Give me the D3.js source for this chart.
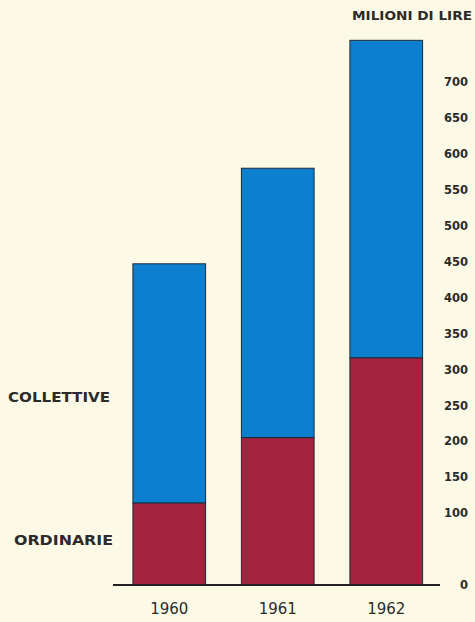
<!DOCTYPE html>
<html>
<head>
<meta charset="utf-8">
<script src="https://cdn.jsdelivr.net/npm/d3@7"></script>
<style>
  html, body { margin: 0; padding: 0; background: #fcfae6; }
  svg { display: block; }
</style>
</head>
<body>
<script>
'use strict';

// data (milioni di lire)
const years = ['1960', '1961', '1962'];
const ordinarie = [114, 205, 316];
const collettive = [333, 375, 442];
const tickValues = [0, 100, 150, 200, 250, 300, 350, 400, 450, 500, 550, 600, 650, 700];

const W = 475, H = 622;
const FONT = '"DejaVu Sans", Lato, sans-serif';
const BLUE = '#0c80cf', RED = '#a4233f', EDGE = '#1d2a3a', TEXT = '#2b2b2b';

const svg = d3.select('body').append('svg')
  .attr('width', W).attr('height', H)
  .attr('viewBox', `0 0 ${W} ${H}`);
svg.append('rect').attr('width', W).attr('height', H).attr('fill', '#fcfae6');

const x = d3.scaleBand().domain(years).range([115, 440.5])
  .paddingInner(0.33).paddingOuter(0.165);
const y = d3.scaleLinear().domain([0, 700]).range([585, 82]);

// stacked bars
const rows = years.map((yr, i) => ({ yr, ord: ordinarie[i], col: collettive[i] }));
const bars = svg.append('g');
bars.selectAll('rect.col').data(rows).join('rect')
  .attr('class', 'col')
  .attr('x', d => x(d.yr)).attr('width', x.bandwidth())
  .attr('y', d => y(d.ord + d.col))
  .attr('height', d => y(d.ord) - y(d.ord + d.col))
  .attr('fill', BLUE).attr('stroke', EDGE).attr('stroke-width', 1);
bars.selectAll('rect.ord').data(rows).join('rect')
  .attr('class', 'ord')
  .attr('x', d => x(d.yr)).attr('width', x.bandwidth())
  .attr('y', d => y(d.ord))
  .attr('height', d => y(0) - y(d.ord))
  .attr('fill', RED).attr('stroke', EDGE).attr('stroke-width', 1);

// baseline
svg.append('line')
  .attr('x1', 113).attr('x2', 440)
  .attr('y1', y(0)).attr('y2', y(0))
  .attr('stroke', '#222').attr('stroke-width', 2);

// value axis on the right, labels only
const yAxis = svg.append('g')
  .attr('transform', 'translate(468,0)')
  .call(d3.axisLeft(y).tickValues(tickValues).tickSize(0).tickPadding(0));
yAxis.select('.domain').remove();
yAxis.selectAll('text')
  .attr('font-family', FONT).attr('font-size', 11.5).attr('font-weight', 700)
  .attr('fill', TEXT);

// year labels
const xAxis = svg.append('g')
  .attr('transform', `translate(0,${y(0)})`)
  .call(d3.axisBottom(x).tickSize(0).tickPadding(18));
xAxis.select('.domain').remove();
xAxis.selectAll('text')
  .attr('font-family', FONT).attr('font-size', 15).attr('font-weight', 400)
  .attr('fill', TEXT);

// unit and series labels
function label(tx, ty, s, size, anchor, len) {
  svg.append('text')
    .attr('x', tx).attr('y', ty)
    .attr('text-anchor', anchor)
    .attr('dominant-baseline', 'middle')
    .attr('font-family', FONT).attr('font-size', size).attr('font-weight', 700)
    .attr('fill', TEXT)
    .attr('textLength', len).attr('lengthAdjust', 'spacingAndGlyphs')
    .text(s);
}
label(352, 16, 'MILIONI DI LIRE', 11.5, 'start', 120);
label(8, y(260), 'COLLETTIVE', 13.5, 'start', 102);
label(14, y(61), 'ORDINARIE', 13.5, 'start', 99);
</script>
</body>
</html>
